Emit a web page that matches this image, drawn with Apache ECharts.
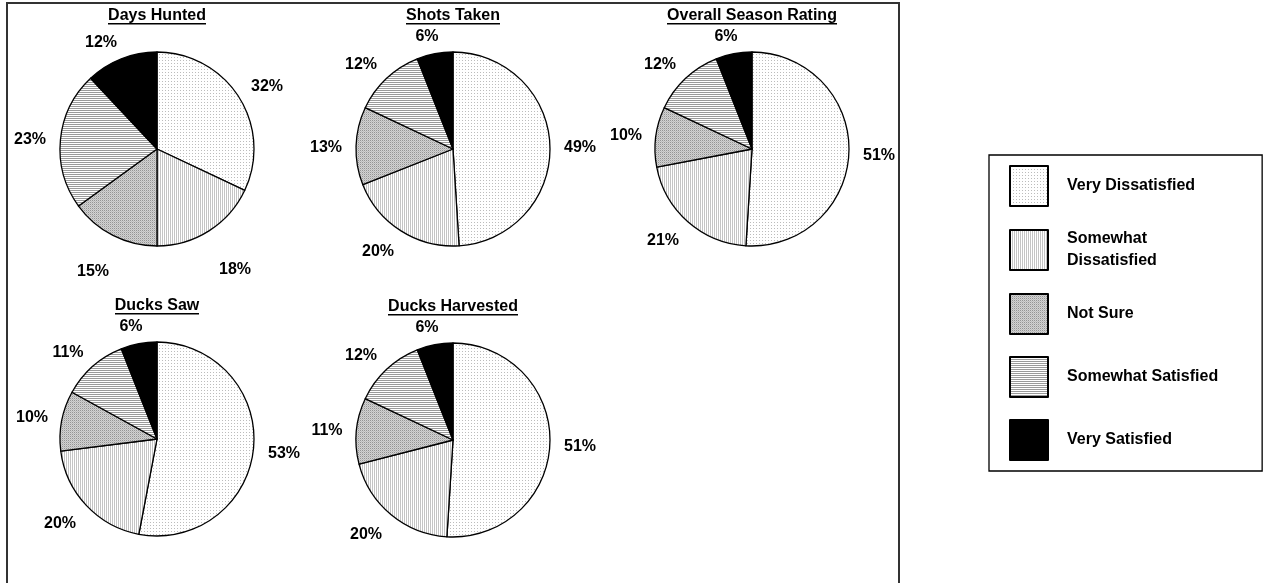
<!DOCTYPE html>
<html>
<head>
<meta charset="utf-8">
<script src="https://cdn.jsdelivr.net/npm/echarts@6/dist/echarts.min.js"></script>
<style>
  html, body { margin: 0; padding: 0; background: #fff; }
  #chart { width: 1266px; height: 583px; }
</style>
</head>
<body>
<div id="chart"></div>
<script>
// ---- data ----
const categories = ['Very Dissatisfied', 'Somewhat Dissatisfied', 'Not Sure', 'Somewhat Satisfied', 'Very Satisfied'];
const chartTitles = ['Days Hunted', 'Shots Taken', 'Overall Season Rating', 'Ducks Saw', 'Ducks Harvested'];
const daysHunted = [32, 18, 15, 23, 12];
const shotsTaken = [49, 20, 13, 12, 6];
const overallSeasonRating = [51, 21, 10, 12, 6];
const ducksSaw = [53, 20, 10, 11, 6];
const ducksHarvested = [51, 20, 11, 12, 6];
const seriesValues = [daysHunted, shotsTaken, overallSeasonRating, ducksSaw, ducksHarvested];

// ---- layout (not data) ----
const centers = [[157, 149], [453, 149], [752, 149], [157, 439], [453, 440]];
const pieRadius = 97;
const labelGap = 14;
const labelHalfHeight = 6;
const labelDy = 3;
// labels the original author dragged elsewhere (series-index, data-index -> gap, rotation in degrees)
const labelOverride = { '0-1': { gap: 31, rot: 3.4 }, '0-2': { gap: 27, rot: -4.2 } };
const FONT = '"Liberation Sans", Arial, sans-serif';

// ---- patterns ----
function makePattern(w, h, draw) {
  const c = document.createElement('canvas');
  c.width = w; c.height = h;
  const ctx = c.getContext('2d');
  draw(ctx);
  return { image: c, repeat: 'repeat' };
}
const patterns = [
  // Very Dissatisfied: sparse dots
  makePattern(3, 3, ctx => { ctx.fillStyle = '#fff'; ctx.fillRect(0,0,3,3); ctx.fillStyle = '#bcbcbc'; ctx.fillRect(0,0,1,1); }),
  // Somewhat Dissatisfied: vertical fine lines
  makePattern(2, 2, ctx => { ctx.fillStyle = '#fff'; ctx.fillRect(0,0,2,2); ctx.fillStyle = '#c4c4c4'; ctx.fillRect(0,0,1,2); }),
  // Not Sure: dense gray dots
  makePattern(2, 2, ctx => { ctx.fillStyle = '#d2d2d2'; ctx.fillRect(0,0,2,2); ctx.fillStyle = '#949494'; ctx.fillRect(0,0,1,1); ctx.fillStyle = '#bcbcbc'; ctx.fillRect(1,1,1,1); }),
  // Somewhat Satisfied: horizontal lines
  makePattern(2, 2, ctx => { ctx.fillStyle = '#fff'; ctx.fillRect(0,0,2,2); ctx.fillStyle = '#9a9a9a'; ctx.fillRect(0,0,2,1); }),
  // Very Satisfied: black
  '#000'
];

const chart = echarts.init(document.getElementById('chart'), null, { renderer: 'canvas' });

// measure text for title underlines
const mctx = document.createElement('canvas').getContext('2d');
mctx.font = 'bold 16px ' + FONT;

// mid angle (clockwise from 12 o'clock) of each slice, derived from the values
function midAngle(vals, idx) {
  const total = vals.reduce((a, b) => a + b, 0);
  let before = 0;
  for (let i = 0; i < idx; i++) before += vals[i];
  return (before + vals[idx] / 2) / total * Math.PI * 2;
}
const sat = x => Math.max(-1, Math.min(1, x * 2.5));

const series = seriesValues.map((vals, si) => ({
  type: 'pie',
  name: chartTitles[si],
  center: centers[si],
  radius: pieRadius,
  startAngle: 90,
  clockwise: true,
  avoidLabelOverlap: false,
  animation: false,
  silent: true,
  itemStyle: { borderColor: '#000', borderWidth: 1.3 },
  label: {
    show: true,
    position: 'outside',
    formatter: '{c}%',
    color: '#000',
    fontFamily: FONT,
    fontWeight: 'bold',
    fontSize: 16
  },
  labelLine: { show: false, length: 10, length2: 4 },
  labelLayout: function (params) {
    const v = seriesValues[params.seriesIndex];
    const key = params.seriesIndex + '-' + params.dataIndex;
    const ov = labelOverride[key];
    let th = midAngle(v, params.dataIndex);
    let g = labelGap;
    if (ov) { th += ov.rot * Math.PI / 180; g = ov.gap; }
    const ux = Math.sin(th), uy = -Math.cos(th);
    const hw = params.labelRect.width / 2, hh = labelHalfHeight;
    const d = pieRadius + g;
    const c = centers[params.seriesIndex];
    return {
      x: Math.round(c[0] + ux * d + sat(ux) * hw),
      y: Math.round(c[1] + uy * d + sat(uy) * hh + labelDy),
      align: 'center', verticalAlign: 'middle'
    };
  },
  data: categories.map((name, i) => ({
    name: name,
    value: vals[i],
    itemStyle: { color: patterns[i] }
  }))
}));

const titles = chartTitles.map((t, i) => ({
  text: t,
  left: centers[i][0],
  top: centers[i][1] - 141,
  textAlign: 'center',
  padding: 0,
  textStyle: { fontFamily: FONT, fontWeight: 'bold', fontSize: 16, color: '#000' }
}));

const underlines = chartTitles.map((t, i) => {
  const w = mctx.measureText(t).width;
  return {
    type: 'rect',
    shape: { x: Math.round(centers[i][0] - w / 2), y: centers[i][1] - 126, width: Math.round(w), height: 1.5 },
    style: { fill: '#000' },
    silent: true
  };
});

const option = {
  backgroundColor: '#fff',
  animation: false,
  title: titles,
  legend: {
    orient: 'vertical',
    left: 989,
    top: 155,
    padding: [10, 44, 10, 20],
    itemWidth: 38,
    itemHeight: 40,
    itemGap: 21,
    icon: 'rect',
    borderColor: '#000',
    borderWidth: 1.3,
    selectedMode: false,
    data: categories,
    formatter: name => name === 'Somewhat Dissatisfied' ? 'Somewhat\nDissatisfied' : name,
    textStyle: {
      fontFamily: FONT, fontWeight: 'bold', fontSize: 16, color: '#000',
      lineHeight: 22, padding: [0, 0, 0, 14]
    }
  },
  graphic: [
    {
      type: 'rect',
      shape: { x: 7, y: 3, width: 892, height: 620 },
      style: { fill: 'none', stroke: '#333', lineWidth: 2 },
      silent: true,
      z: -10
    }
  ].concat(underlines),
  series: series
};

chart.setOption(option);
</script>
</body>
</html>
